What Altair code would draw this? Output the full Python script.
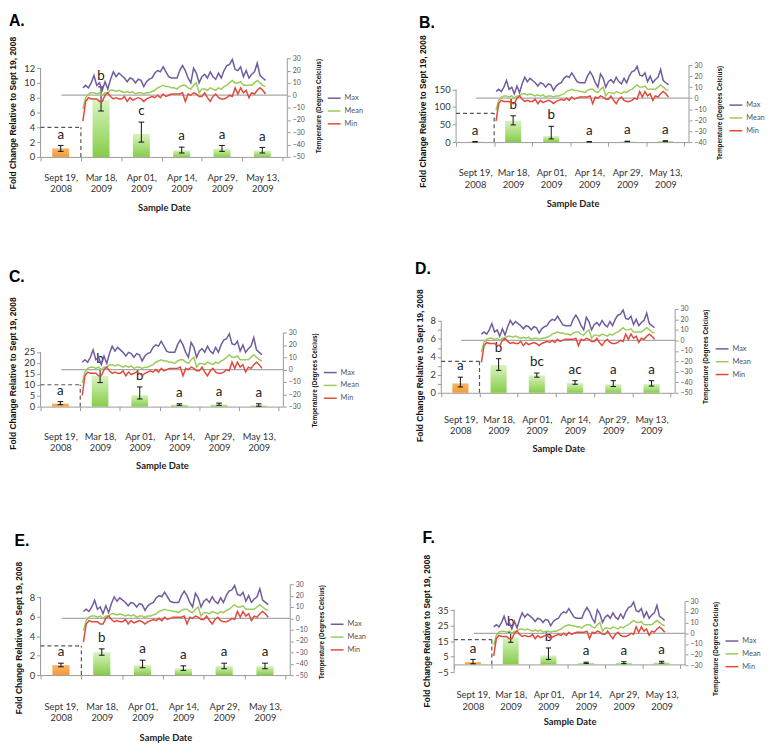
import altair as alt
import pandas as pd

# ---------------- data ----------------
cat_line1 = ["Sept 19,", "Mar 18,", "Apr 01,", "Apr 14,", "Apr 29,", "May 13,"]
cat_line2 = ["2008", "2009", "2009", "2009", "2009", "2009"]
series_names = ["Max", "Mean", "Min"]

temp_max = [6, 8, 6, 10, 16, 8, 10, 4, 11, 5,
            13, 19, 15, 18, 16, 14, 11, 14, 13, 10,
            13, 12, 7, 11, 13, 14, 18, 20, 19, 23,
            19, 15, 14, 14, 14, 20, 24, 20, 14, 10,
            22, 18, 10, 15, 17, 14, 19, 15, 13, 18,
            14, 20, 24, 25, 29, 21, 20, 23, 15, 20,
            14, 17, 19, 26, 16, 14, 12]
temp_mean = [-11, -2, 1, 2, 2, 1, 2, 0, 2, 2,
             4, 4, 3, 4, 3, 2, 3, 2, 3, 1,
             2, 2, 1, 2, 2, 3, 4, 6, 7, 8,
             7, 7, 6, 6, 5, 7, 8, 8, 6, 5,
             8, 10, 2, 5, 5, 4, 6, 5, 4, 6,
             5, 7, 8, 10, 12, 10, 10, 11, 8, 8,
             8, 8, 10, 12, 10, 8, 7]
temp_min = [-21, -5, -2, -3, -3, -3, -5, -5, 0, 2,
            -1, -3, -2, -3, -3, -1, -5, -2, -4, -3,
            -2, -3, -5, -3, -2, -1, -2, 0, -2, 1,
            -1, 0, 1, 1, 1, 1, 2, -5, 1, 0,
            2, 1, -1, -1, 2, -2, -5, -1, 1, -2,
            -3, -3, -2, 0, -1, 6, 1, 6, 2, 4,
            -2, 2, 1, 4, 6, 4, 1]

a_vals = [1.15, 7.7, 3.1, 0.88, 1.1, 0.84]
a_lo = [0.75, 6.2, 2.0, 0.53, 0.75, 0.53]
a_hi = [1.55, 9.45, 4.7, 1.32, 1.55, 1.28]
a_sig = ["a", "b", "c", "a", "a", "a"]

b_vals = [1, 61, 17, 1, 2, 3]
b_lo = [0.5, 49, 9, 0.5, 1.5, 2.2]
b_hi = [1.5, 75, 45, 1.5, 2.5, 3.8]
b_sig = ["a", "b", "b", "a", "a", "a"]

c_vals = [1.4, 14.0, 5.3, 0.9, 1.0, 0.6]
c_lo = [0.9, 11.0, 3.5, 0.6, 0.6, 0.2]
c_hi = [2.3, 17.0, 9.0, 1.3, 1.6, 1.3]
c_sig = ["a", "b", "b", "a", "a", "a"]

d_vals = [1.05, 3.1, 1.95, 1.1, 0.95, 1.0]
d_lo = [0.65, 2.5, 1.74, 0.95, 0.7, 0.75]
d_hi = [1.74, 3.8, 2.2, 1.35, 1.35, 1.35]
d_sig = ["a", "b", "bc", "ac", "a", "a"]

e_vals = [1.02, 2.35, 1.02, 0.68, 0.92, 0.92]
e_lo = [0.85, 2.04, 0.75, 0.48, 0.65, 0.65]
e_hi = [1.22, 2.69, 1.53, 0.95, 1.22, 1.22]
e_sig = ["a", "b", "a", "a", "a", "a"]

f_vals = [1.5, 17.4, 5.7, 1.0, 1.0, 1.3]
f_lo = [0.4, 14.3, 3.2, 0.6, 0.5, 0.8]
f_hi = [3.2, 20.6, 10.6, 1.4, 1.7, 2.0]
f_sig = ["a", "b", "b", "a", "a", "a"]

box_levels = {"A.": 4, "B.": 82, "C.": 10, "D.": 3.5, "E.": 3, "F.": 16}

left_ticks = {
    "A.": [0, 2, 4, 6, 8, 10, 12],
    "B.": [0, 50, 100, 150],
    "C.": [0, 5, 10, 15, 20, 25],
    "D.": [0, 1, 2, 3, 4, 5, 6, 7, 8],
    "E.": [0, 2, 4, 6, 8],
    "F.": [-5, 5, 15, 25, 35],
}
temp_ticks = {
    "A.": [-50, -40, -30, -20, -10, 0, 10, 20, 30],
    "B.": [-40, -30, -20, -10, 0, 10, 20, 30],
    "C.": [-30, -20, -10, 0, 10, 20, 30],
    "D.": [-50, -40, -30, -20, -10, 0, 10, 20, 30],
    "E.": [-50, -40, -30, -20, -10, 0, 10, 20, 30],
    "F.": [-30, -20, -10, 0, 10, 20, 30],
}

# ---------------- layout / style ----------------
XMAX = 6.12
T_START, T_END = 1.05, 5.58
ZERO_START = 0.52
LINE_COLORS = ["#6f5b9e", "#9bcb5a", "#e2493b"]
ORANGE = alt.LinearGradient(gradient="linear", x1=0, x2=0, y1=0, y2=1,
                            stops=[alt.GradientStop(color="#f7b866", offset=0),
                                   alt.GradientStop(color="#f29a3a", offset=1)])
GREEN = alt.LinearGradient(gradient="linear", x1=0, x2=0, y1=0, y2=1,
                           stops=[alt.GradientStop(color="#d9f3c0", offset=0),
                                  alt.GradientStop(color="#86cd48", offset=1)])

# ext = extra px above the 30 degC line so that panels in a row share a top edge
layouts = {
    "A.": dict(W=250, H=100, ext=0, ydom=[0, 13.33], tdom=[-50, 30], lpad=12, tpad=9.5, toff=7, ty=55, xoff=0),
    "B.": dict(W=236, H=85, ext=7, ydom=[0, 239.2], tdom=[-40, 36.3], lpad=22, tpad=10.5, toff=3.5, ty=53.5, xoff=0),
    "C.": dict(W=246, H=99, ext=24, ydom=[0, 44.75], tdom=[-30, 49.2], lpad=21, tpad=8.5, toff=12, ty=65, xoff=0),
    "D.": dict(W=237, H=85, ext=0, ydom=[0, 9.35], tdom=[-50, 30], lpad=18, tpad=8.5, toff=12, ty=57, xoff=0),
    "E.": dict(W=253, H=92, ext=0, ydom=[0, 9.33], tdom=[-50, 30], lpad=23, tpad=10, toff=12, ty=54, xoff=0),
    "F.": dict(W=234, H=89, ext=17, ydom=[-5, 51.75], tdom=[-36.2, 45.7], lpad=22, tpad=5.5, toff=8, ty=47, xoff=-7.8),
}

n_days = len(temp_max)
temp_rows = []
for name, arr in zip(series_names, [temp_max, temp_mean, temp_min]):
    for i, v in enumerate(arr):
        temp_rows.append({"series": name, "day": i, "temp": v})
temp_df = pd.DataFrame(temp_rows)
temp_df["tx"] = T_START + temp_df["day"] * (T_END - T_START) / (n_days - 1)

lab_arr = "[" + ",".join(f"['{a}','{b}']" for a, b in zip(cat_line1, cat_line2)) + ",'']"


def make_panel(letter, vals, lo, hi, sig):
    lay = layouts[letter]
    W, H = lay["W"], lay["H"]
    bars = pd.DataFrame({"idx": range(len(vals)), "val": vals, "lo": lo, "hi": hi, "sig": sig})
    bars["xc"] = bars["idx"] + 0.5
    bars["xl"] = bars["xc"] - 0.21
    bars["xr"] = bars["xc"] + 0.21
    bars["cl"] = bars["xc"] - 0.07
    bars["cr"] = bars["xc"] + 0.07

    xs = alt.Scale(domain=[0, XMAX], nice=False, zero=False)
    yl = alt.Scale(domain=lay["ydom"], nice=False, zero=False)
    yt = alt.Scale(domain=lay["tdom"], nice=False, zero=False)

    xaxis = alt.Axis(values=list(range(7)), labelExpr=f"{lab_arr}[round(datum.value)]",
                     labelOffset=W / XMAX / 2, labelFont="Lato", labelFontSize=9.5,
                     labelColor="#333", labelLineHeight=11.5, labelPadding=lay["lpad"],
                     labelFlush=False, labelOverlap=False, labelBound=False,
                     tickSize=4, tickColor="#999", domainColor="#999", grid=False,
                     offset=lay["xoff"], title="Sample Date", titleFont="Lato",
                     titleFontSize=9.5, titleFontWeight="bold", titleColor="#222",
                     titlePadding=lay["tpad"])
    yaxis = alt.Axis(values=left_ticks[letter], title="Fold Change Relative to Sept 19, 2008",
                     titleFont="Liberation Sans", titleFontSize=8.6, titleFontWeight="bold",
                     titleColor="#111", titlePadding=6, titleY=lay["ty"], titleAlign="center",
                     titleBaseline="bottom", labelFont="Lato", labelFontSize=9.5,
                     labelColor="#333", labelPadding=2, tickSize=4, tickColor="#999",
                     domain=False, grid=False)
    taxis = alt.Axis(orient="right", values=temp_ticks[letter],
                     title="Temperature (Degrees Celcius)", titleFont="Liberation Sans",
                     titleFontSize=6.5, titleFontWeight="bold", titleColor="#111",
                     titleAngle=270, titleBaseline="top", titlePadding=11,
                     titleY=lay["ext"] + 48,
                     labelFont="Lato", labelFontSize=7,
                     labelColor="#555", labelPadding=2, tickSize=3, tickColor="#999",
                     domain=False, grid=False)

    X = lambda f: alt.X(f, scale=xs, axis=xaxis)
    YL = lambda f: alt.Y(f, scale=yl, axis=yaxis)
    YT = lambda f: alt.Y(f, scale=yt, axis=taxis)

    base = alt.Chart(bars)
    b0 = base.transform_filter("datum.idx == 0").mark_bar(color=ORANGE).encode(
        x=X("xl:Q"), x2="xr:Q", y=YL("val:Q"), y2=alt.datum(0))
    b1 = base.transform_filter("datum.idx > 0").mark_bar(color=GREEN).encode(
        x=X("xl:Q"), x2="xr:Q", y=YL("val:Q"), y2=alt.datum(0))

    lt = left_ticks[letter]
    ldom_df = pd.DataFrame({"x": [0], "y0": [min(lt)], "y1": [max(lt)]})
    ldom = alt.Chart(ldom_df).mark_rule(color="#999", strokeWidth=1).encode(
        x=X("x:Q"), y=YL("y0:Q"), y2="y1:Q")

    box_df = pd.DataFrame({"x0": [0], "x1": [1], "base": [0], "h": [box_levels[letter]]})
    box_h = alt.Chart(box_df).mark_rule(strokeDash=[4, 3], color="#555", strokeWidth=1.2).encode(
        x=X("x0:Q"), x2="x1:Q", y=YL("h:Q"))
    box_v = alt.Chart(box_df).mark_rule(strokeDash=[4, 3], color="#555", strokeWidth=1.2).encode(
        x=X("x1:Q"), y=YL("base:Q"), y2="h:Q")

    err = base.mark_rule(color="#111", strokeWidth=1).encode(
        x=X("xc:Q"), y=YL("lo:Q"), y2="hi:Q")
    cap_hi = base.mark_rule(color="#111", strokeWidth=1).encode(
        x=X("cl:Q"), x2="cr:Q", y=YL("hi:Q"))
    cap_lo = base.mark_rule(color="#111", strokeWidth=1).encode(
        x=X("cl:Q"), x2="cr:Q", y=YL("lo:Q"))
    txt = base.mark_text(font="Lato", fontSize=13.5, dy=-7, baseline="alphabetic",
                         color="#222").encode(
        x=X("xc:Q"), y=YL("hi:Q"), text="sig:N")

    tt = temp_ticks[letter]
    tdom_df = pd.DataFrame({"x": [XMAX], "t0": [min(tt)], "t1": [max(tt)]})
    tdom = alt.Chart(tdom_df).mark_rule(color="#999", strokeWidth=1).encode(
        x=X("x:Q"), y=YT("t0:Q"), y2="t1:Q")
    zero_df = pd.DataFrame({"x0": [ZERO_START], "x1": [XMAX], "t": [0]})
    zero = alt.Chart(zero_df).mark_rule(color="#a8a8a8", strokeWidth=1.3).encode(
        x=X("x0:Q"), x2="x1:Q", y=YT("t:Q"))
    lines = alt.Chart(temp_df).mark_line(strokeWidth=1.5).encode(
        x=X("tx:Q"), y=YT("temp:Q"),
        color=alt.Color("series:N", scale=alt.Scale(domain=series_names, range=LINE_COLORS),
                        legend=alt.Legend(orient="none", legendX=W + 40,
                                          legendY=lay["ext"] + 33, title=None,
                                          symbolType="stroke", symbolSize=170,
                                          symbolStrokeWidth=1.5, labelFont="Lato",
                                          labelFontSize=7.5, labelColor="#555",
                                          rowPadding=2, padding=0, labelOffset=3)))

    left = alt.layer(b0, b1, ldom, box_h, box_v, err, cap_hi, cap_lo, txt)
    right = alt.layer(tdom, zero, lines)
    return alt.layer(left, right).resolve_scale(y="independent").properties(
        width=W, height=H,
        title=alt.TitleParams(letter, anchor="start", frame="bounds", fontSize=16,
                              font="Liberation Sans", fontWeight="bold", color="black",
                              offset=lay["toff"]))


pA = make_panel("A.", a_vals, a_lo, a_hi, a_sig)
pB = make_panel("B.", b_vals, b_lo, b_hi, b_sig)
pC = make_panel("C.", c_vals, c_lo, c_hi, c_sig)
pD = make_panel("D.", d_vals, d_lo, d_hi, d_sig)
pE = make_panel("E.", e_vals, e_lo, e_hi, e_sig)
pF = make_panel("F.", f_vals, f_lo, f_hi, f_sig)


def row(a, b, sp):
    return alt.hconcat(a, b, spacing=sp).resolve_scale(
        x="independent", y="independent", color="independent")


top_rows = alt.vconcat(row(pA, pB, 56), row(pC, pD, 56), spacing=49).resolve_scale(
    x="independent", y="independent", color="independent")
chart = alt.vconcat(top_rows, row(pE, pF, 56), spacing=61).resolve_scale(
    x="independent", y="independent", color="independent"
).properties(padding={"left": 0, "top": 0, "right": 0, "bottom": 0}, background="white"
).configure_view(stroke=None)

chart.save("out.html", embed_options={"renderer": "svg", "actions": False})
